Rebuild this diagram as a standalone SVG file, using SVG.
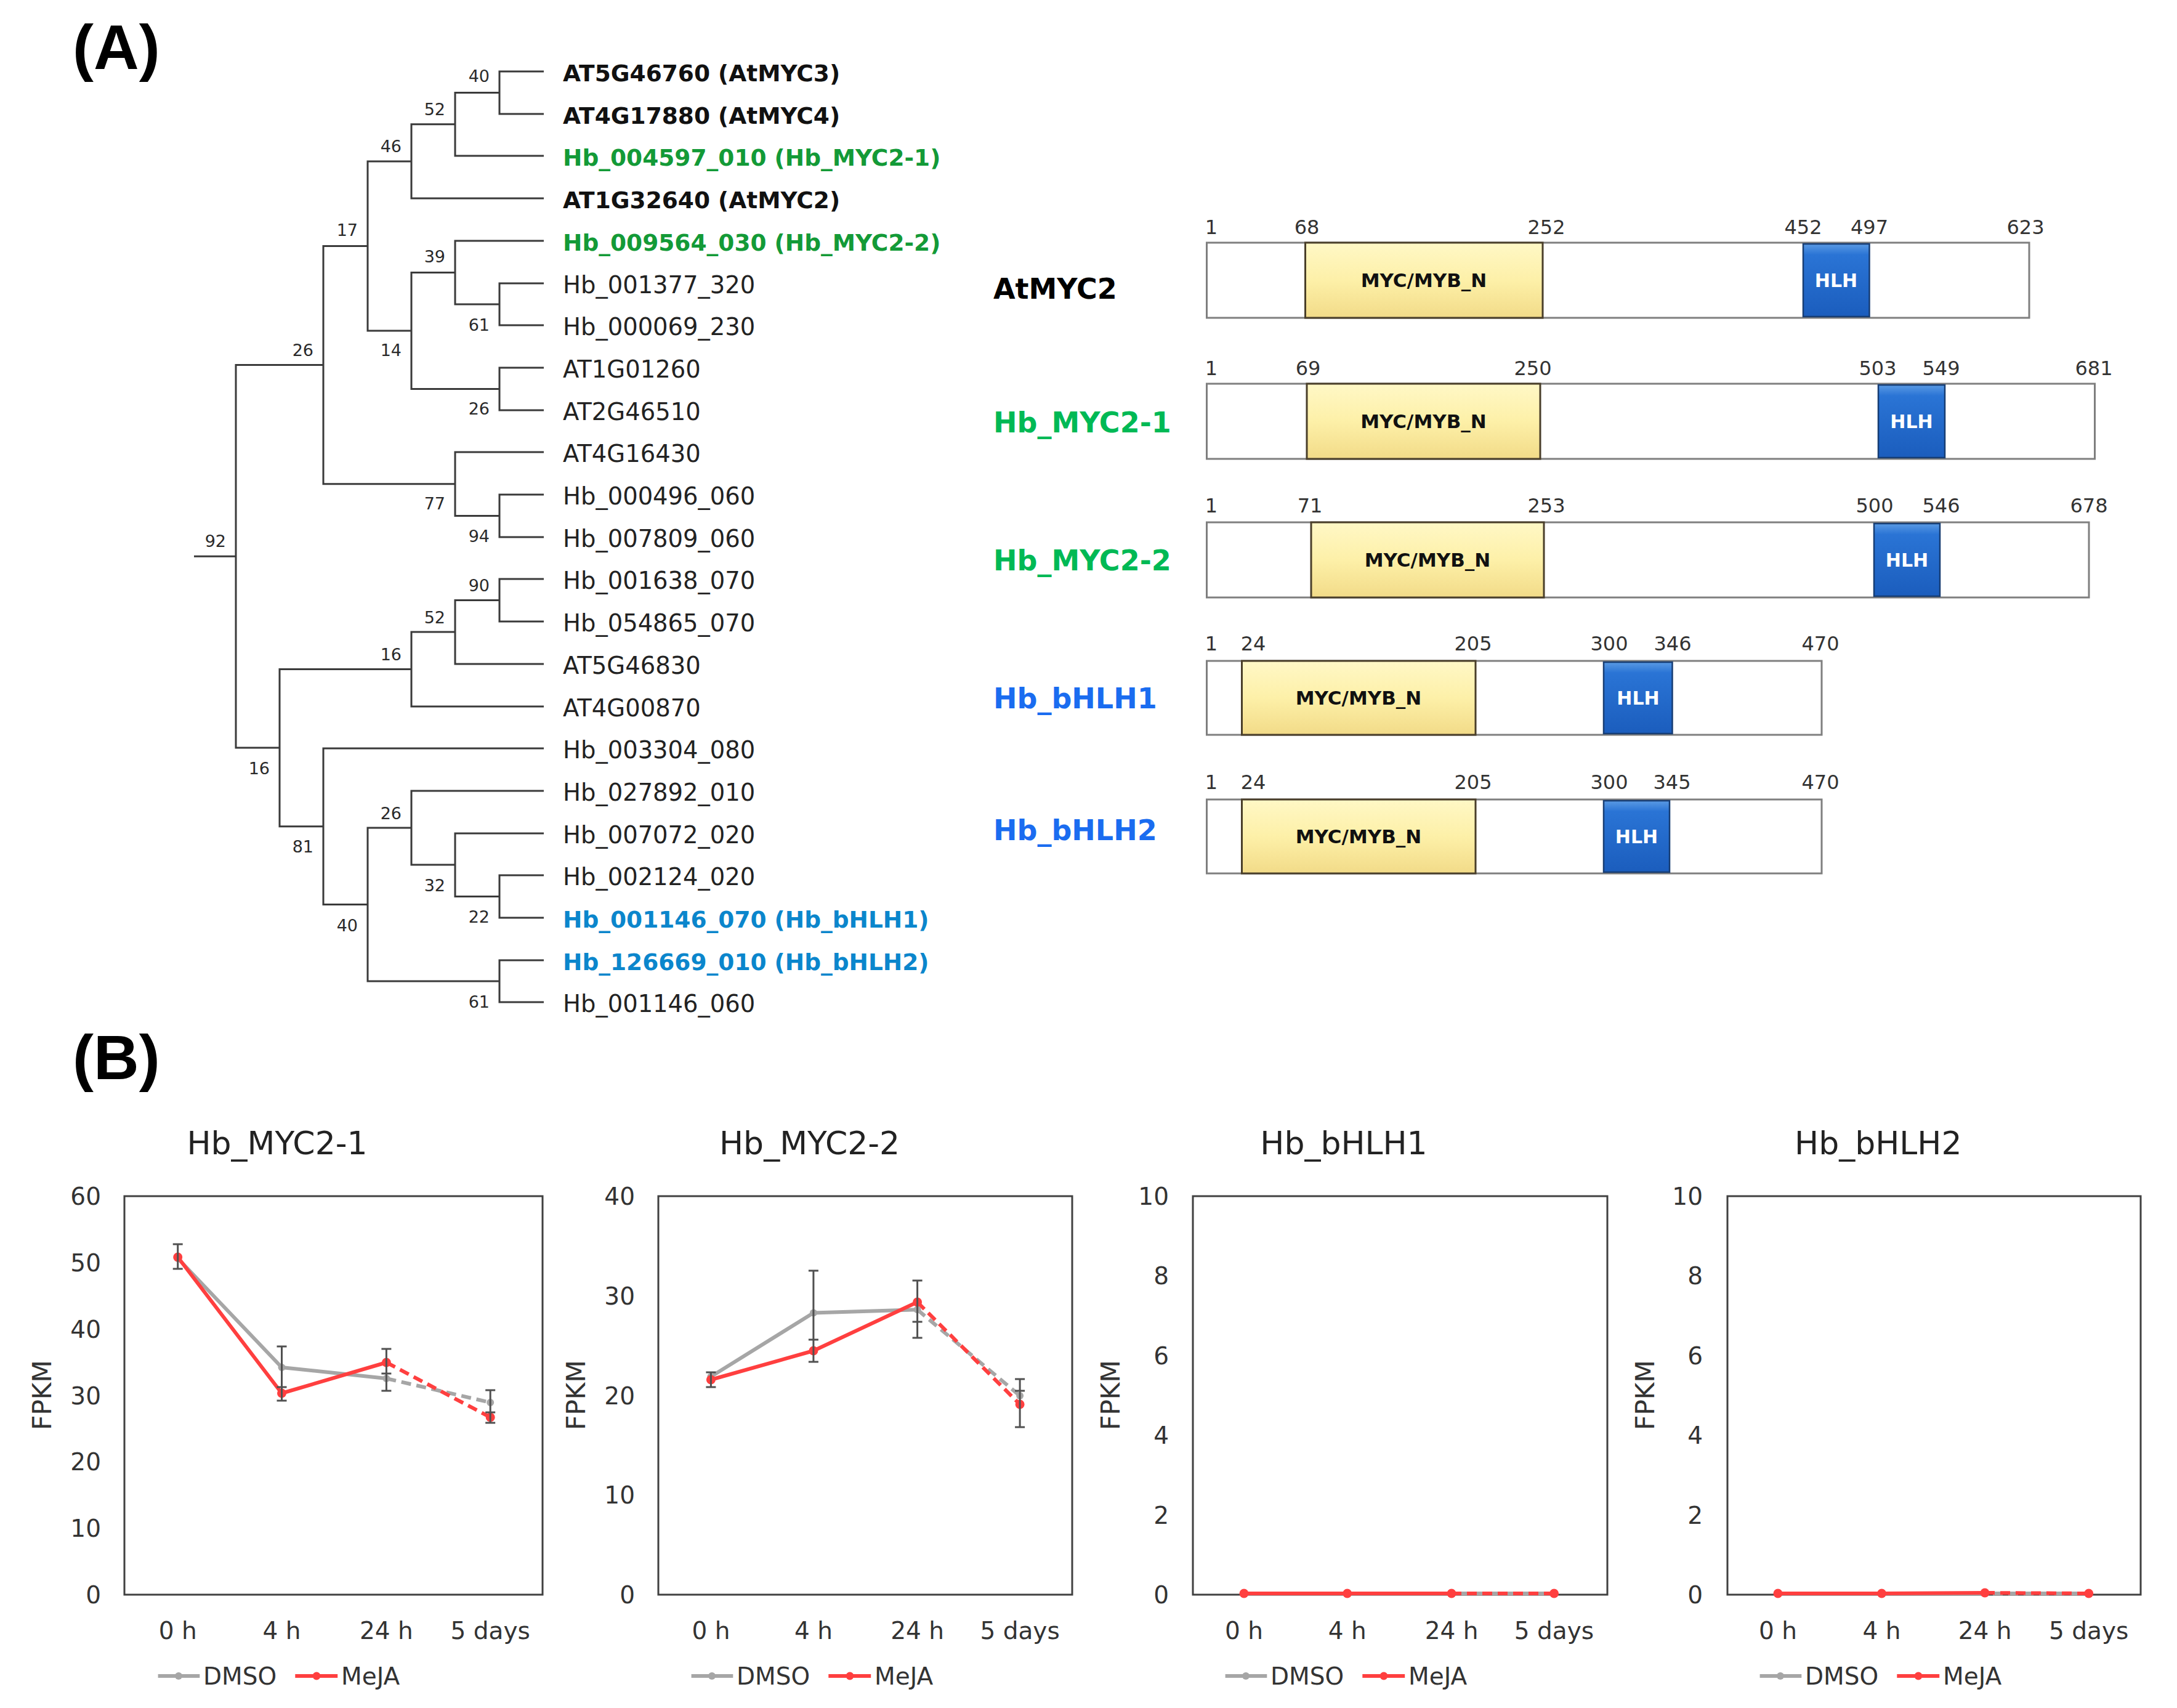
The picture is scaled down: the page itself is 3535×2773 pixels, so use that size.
<svg xmlns="http://www.w3.org/2000/svg" width="3535" height="2773" viewBox="0 0 3535 2773">
<style>
text{font-family:"DejaVu Sans",Verdana,sans-serif}
.panel{font-family:"Liberation Sans",Arial,sans-serif;font-weight:bold;font-size:102px;fill:#000}
.br{fill:none;stroke:#3a3a3a;stroke-width:3}
.bs{font-size:27px;fill:#2a2a2a;text-anchor:end}
.lf{font-size:38.5px;fill:#222}
.lb{font-size:37.5px;font-weight:bold;fill:#111}
.gt{fill:#139a37}
.bt{fill:#0b86cc}
.dl{font-size:46px;font-weight:bold}
.num{font-size:32px;fill:#333;text-anchor:middle}
.outer{fill:#fff;stroke:#7f7f7f;stroke-width:3}
.myc{fill:url(#gy);stroke:#4a3f2a;stroke-width:3}
.hlh{fill:url(#gb);stroke:#173d73;stroke-width:2.5}
.mt{font-size:31px;font-weight:bold;fill:#111;text-anchor:middle}
.ht{font-size:30px;font-weight:bold;fill:#fff;text-anchor:middle}
.box{fill:#fff;stroke:#404040;stroke-width:3}
.tk{font-size:39px;fill:#333;text-anchor:end}
.xl{font-size:39px;fill:#333;text-anchor:middle}
.ti{font-size:52px;fill:#222;text-anchor:middle}
.yl{font-size:42px;fill:#333;text-anchor:middle}
.lg{font-size:39px;fill:#333}
.dm{fill:none;stroke:#a6a6a6;stroke-width:6;stroke-linejoin:round}
.mj{fill:none;stroke:#ff3f3f;stroke-width:6;stroke-linejoin:round}
.dash{stroke-dasharray:16 9}
.dmp{fill:#a6a6a6}
.mjp{fill:#ff3f3f}
.eb{fill:none;stroke:#505050;stroke-width:3}
</style>
<defs>
<linearGradient id="gy" x1="0" y1="0" x2="0" y2="1">
<stop offset="0" stop-color="#fff8c6"/><stop offset="0.5" stop-color="#fdf0a8"/><stop offset="1" stop-color="#f2db88"/>
</linearGradient>
<linearGradient id="gb" x1="0" y1="0" x2="0" y2="1">
<stop offset="0" stop-color="#5a9ae4"/><stop offset="0.15" stop-color="#2a74d5"/><stop offset="1" stop-color="#1b5dbd"/>
</linearGradient>
</defs>
<rect width="3535" height="2773" fill="#fff"/>

<text class="panel" x="118" y="112">(A)</text>
<text class="panel" x="118" y="1752">(B)</text>

<!-- Tree connectors -->
<g id="tree-connectors">
<path class="br" d="M883 116 H811 V185 H883"/>
<path class="br" d="M811 150.5 H739 V253 H883"/>
<path class="br" d="M739 201.75 H668 V322 H883"/>
<path class="br" d="M883 460 H811 V528 H883"/>
<path class="br" d="M883 391 H739 V494 H811"/>
<path class="br" d="M883 597 H811 V666 H883"/>
<path class="br" d="M739 442.5 H668 V631.5 H811"/>
<path class="br" d="M668 261.9 H597 V537 H668"/>
<path class="br" d="M883 803 H811 V872 H883"/>
<path class="br" d="M883 734 H739 V837.5 H811"/>
<path class="br" d="M597 399.5 H525 V785.75 H739"/>
<path class="br" d="M883 940 H811 V1009 H883"/>
<path class="br" d="M811 974.5 H739 V1078 H883"/>
<path class="br" d="M739 1026 H668 V1147 H883"/>
<path class="br" d="M883 1421 H811 V1490 H883"/>
<path class="br" d="M883 1353 H739 V1455.5 H811"/>
<path class="br" d="M883 1284 H668 V1404 H739"/>
<path class="br" d="M883 1559 H811 V1627 H883"/>
<path class="br" d="M668 1344 H597 V1593 H811"/>
<path class="br" d="M883 1215 H525 V1468.5 H597"/>
<path class="br" d="M668 1086.5 H454 V1341.75 H525"/>
<path class="br" d="M525 592.6 H383 V1214 H454 M315 903.3 H383"/>
</g>

<g id="tree-support">
<text class="bs" x="795" y="133">40</text>
<text class="bs" x="723" y="187">52</text>
<text class="bs" x="652" y="247">46</text>
<text class="bs" x="581" y="383">17</text>
<text class="bs" x="723" y="426">39</text>
<text class="bs" x="795" y="537">61</text>
<text class="bs" x="509" y="578">26</text>
<text class="bs" x="652" y="578">14</text>
<text class="bs" x="795" y="673">26</text>
<text class="bs" x="723" y="827">77</text>
<text class="bs" x="795" y="880">94</text>
<text class="bs" x="367" y="888">92</text>
<text class="bs" x="795" y="960">90</text>
<text class="bs" x="723" y="1012">52</text>
<text class="bs" x="652" y="1072">16</text>
<text class="bs" x="438" y="1257">16</text>
<text class="bs" x="509" y="1384">81</text>
<text class="bs" x="652" y="1330">26</text>
<text class="bs" x="723" y="1447">32</text>
<text class="bs" x="795" y="1498">22</text>
<text class="bs" x="581" y="1512">40</text>
<text class="bs" x="795" y="1636">61</text>
</g>

<g id="tree-leaves">
<text id="leaf-AT5G46760" class="lb" x="914" y="131.5">AT5G46760 (AtMYC3)</text>
<text id="leaf-AT4G17880" class="lb" x="914" y="200.5">AT4G17880 (AtMYC4)</text>
<text id="leaf-Hb_004597_010" class="lb gt" x="914" y="268.5">Hb_004597_010 (Hb_MYC2-1)</text>
<text id="leaf-AT1G32640" class="lb" x="914" y="337.5">AT1G32640 (AtMYC2)</text>
<text id="leaf-Hb_009564_030" class="lb gt" x="914" y="406.5">Hb_009564_030 (Hb_MYC2-2)</text>
<text id="leaf-Hb_001377_320" class="lf" x="914" y="475.5">Hb_001377_320</text>
<text id="leaf-Hb_000069_230" class="lf" x="914" y="543.5">Hb_000069_230</text>
<text id="leaf-AT1G01260" class="lf" x="914" y="612.5">AT1G01260</text>
<text id="leaf-AT2G46510" class="lf" x="914" y="681.5">AT2G46510</text>
<text id="leaf-AT4G16430" class="lf" x="914" y="749.5">AT4G16430</text>
<text id="leaf-Hb_000496_060" class="lf" x="914" y="818.5">Hb_000496_060</text>
<text id="leaf-Hb_007809_060" class="lf" x="914" y="887.5">Hb_007809_060</text>
<text id="leaf-Hb_001638_070" class="lf" x="914" y="955.5">Hb_001638_070</text>
<text id="leaf-Hb_054865_070" class="lf" x="914" y="1024.5">Hb_054865_070</text>
<text id="leaf-AT5G46830" class="lf" x="914" y="1093.5">AT5G46830</text>
<text id="leaf-AT4G00870" class="lf" x="914" y="1162.5">AT4G00870</text>
<text id="leaf-Hb_003304_080" class="lf" x="914" y="1230.5">Hb_003304_080</text>
<text id="leaf-Hb_027892_010" class="lf" x="914" y="1299.5">Hb_027892_010</text>
<text id="leaf-Hb_007072_020" class="lf" x="914" y="1368.5">Hb_007072_020</text>
<text id="leaf-Hb_002124_020" class="lf" x="914" y="1436.5">Hb_002124_020</text>
<text id="leaf-Hb_001146_070" class="lb bt" x="914" y="1505.5">Hb_001146_070 (Hb_bHLH1)</text>
<text id="leaf-Hb_126669_010" class="lb bt" x="914" y="1574.5">Hb_126669_010 (Hb_bHLH2)</text>
<text id="leaf-Hb_001146_060" class="lf" x="914" y="1642.5">Hb_001146_060</text>
</g>

<!-- Domain structures -->
<g id="dom-AtMYC2">
<text class="dl" x="1613" y="485" fill="#000">AtMYC2</text>
<rect class="outer" x="1959.5" y="394" width="1335.5" height="122"/>
<rect class="myc" x="2119.5" y="394" width="385.5" height="122"/>
<text class="mt" x="2312" y="466">MYC/MYB_N</text>
<rect class="hlh" x="2928" y="396" width="107.5" height="118"/>
<text class="ht" x="2981.5" y="466">HLH</text>
<text class="num" x="1967" y="380">1</text><text class="num" x="2122" y="380">68</text><text class="num" x="2511" y="380">252</text><text class="num" x="2928" y="380">452</text><text class="num" x="3035.5" y="380">497</text><text class="num" x="3289" y="380">623</text>
</g>

<g id="dom-Hb_MYC2-1">
<text class="dl" x="1613" y="702" fill="#00b955">Hb_MYC2-1</text>
<rect class="outer" x="1959.5" y="623" width="1442" height="122"/>
<rect class="myc" x="2122" y="623" width="379" height="122"/>
<text class="mt" x="2311.5" y="695">MYC/MYB_N</text>
<rect class="hlh" x="3050" y="625" width="108" height="118"/>
<text class="ht" x="3104" y="695">HLH</text>
<text class="num" x="1967" y="609">1</text><text class="num" x="2124" y="609">69</text><text class="num" x="2489" y="609">250</text><text class="num" x="3049" y="609">503</text><text class="num" x="3152" y="609">549</text><text class="num" x="3400" y="609">681</text>
</g>

<g id="dom-Hb_MYC2-2">
<text class="dl" x="1613" y="926" fill="#00b955">Hb_MYC2-2</text>
<rect class="outer" x="1959.5" y="848" width="1432.5" height="122"/>
<rect class="myc" x="2129" y="848" width="378" height="122"/>
<text class="mt" x="2318" y="920">MYC/MYB_N</text>
<rect class="hlh" x="3043" y="850" width="107" height="118"/>
<text class="ht" x="3096.5" y="920">HLH</text>
<text class="num" x="1967" y="832">1</text><text class="num" x="2127" y="832">71</text><text class="num" x="2511" y="832">253</text><text class="num" x="3044" y="832">500</text><text class="num" x="3152" y="832">546</text><text class="num" x="3392" y="832">678</text>
</g>

<g id="dom-Hb_bHLH1">
<text class="dl" x="1613" y="1150" fill="#1a6cf0">Hb_bHLH1</text>
<rect class="outer" x="1959.5" y="1073" width="998.5" height="120"/>
<rect class="myc" x="2016.5" y="1073" width="379.5" height="120"/>
<text class="mt" x="2206" y="1144">MYC/MYB_N</text>
<rect class="hlh" x="2604" y="1075" width="111.5" height="116"/>
<text class="ht" x="2660" y="1144">HLH</text>
<text class="num" x="1967" y="1056">1</text><text class="num" x="2035" y="1056">24</text><text class="num" x="2392" y="1056">205</text><text class="num" x="2613" y="1056">300</text><text class="num" x="2716" y="1056">346</text><text class="num" x="2956" y="1056">470</text>
</g>

<g id="dom-Hb_bHLH2">
<text class="dl" x="1613" y="1364" fill="#1a6cf0">Hb_bHLH2</text>
<rect class="outer" x="1959.5" y="1298" width="998.5" height="120"/>
<rect class="myc" x="2016.5" y="1298" width="379.5" height="120"/>
<text class="mt" x="2206" y="1369">MYC/MYB_N</text>
<rect class="hlh" x="2604" y="1300" width="107" height="116"/>
<text class="ht" x="2657.5" y="1369">HLH</text>
<text class="num" x="1967" y="1281">1</text><text class="num" x="2035" y="1281">24</text><text class="num" x="2392" y="1281">205</text><text class="num" x="2613" y="1281">300</text><text class="num" x="2715" y="1281">345</text><text class="num" x="2956" y="1281">470</text>
</g>

<!-- Chart 1 -->
<g id="chart-Hb_MYC2-1">
<text class="ti" x="450" y="1874">Hb_MYC2-1</text>
<rect class="box" x="202" y="1942" width="679" height="647"/>
<text class="tk" x="164" y="2603">0</text>
<text class="tk" x="164" y="2495.2">10</text>
<text class="tk" x="164" y="2387.3">20</text>
<text class="tk" x="164" y="2279.5">30</text>
<text class="tk" x="164" y="2171.7">40</text>
<text class="tk" x="164" y="2063.8">50</text>
<text class="tk" x="164" y="1956">60</text>
<text class="yl" transform="translate(83 2265) rotate(-90)">FPKM</text>
<text class="xl" x="288.7" y="2661">0 h</text>
<text class="xl" x="457.5" y="2661">4 h</text>
<text class="xl" x="627.4" y="2661">24 h</text>
<text class="xl" x="796.2" y="2661">5 days</text>
<polyline class="dm" points="288.7,2043 457.5,2220 627.4,2238"/>
<line class="dm dash" x1="627.4" y1="2238" x2="796.2" y2="2277"/>
<polyline class="mj" points="288.7,2041 457.5,2262 627.4,2212"/>
<line class="mj dash" x1="627.4" y1="2212" x2="796.2" y2="2301"/>
<g class="dmp"><circle cx="288.7" cy="2043" r="6"/><circle cx="457.5" cy="2220" r="6"/><circle cx="627.4" cy="2238" r="6"/><circle cx="796.2" cy="2277" r="6"/></g>
<g class="mjp"><circle cx="288.7" cy="2041" r="7.5"/><circle cx="457.5" cy="2262" r="7.5"/><circle cx="627.4" cy="2212" r="7.5"/><circle cx="796.2" cy="2301" r="7.5"/></g>
<path class="eb" d="M288.7 2020 V2060 M280.7 2020 H296.7 M280.7 2060 H296.7 M457.5 2186 V2274 M449.5 2186 H465.5 M449.5 2252 H465.5 M449.5 2274 H465.5 M627.4 2190 V2258 M619.4 2190 H635.4 M619.4 2230 H635.4 M619.4 2258 H635.4 M796.2 2257 V2310 M788.2 2257 H804.2 M788.2 2293 H804.2 M788.2 2310 H804.2"/>
<line class="dm" x1="256.6" y1="2721" x2="324.3" y2="2721"/><circle class="dmp" cx="290" cy="2721" r="6"/>
<text class="lg" x="330" y="2735">DMSO</text>
<line class="mj" x1="479.3" y1="2721" x2="548.2" y2="2721"/><circle class="mjp" cx="514" cy="2721" r="6.5"/>
<text class="lg" x="554" y="2735">MeJA</text>
</g>

<!-- Chart 2 -->
<g id="chart-Hb_MYC2-2">
<text class="ti" x="1314.6" y="1874">Hb_MYC2-2</text>
<rect class="box" x="1069" y="1942" width="672" height="647"/>
<text class="tk" x="1031" y="2603">0</text>
<text class="tk" x="1031" y="2441.3">10</text>
<text class="tk" x="1031" y="2279.5">20</text>
<text class="tk" x="1031" y="2117.8">30</text>
<text class="tk" x="1031" y="1956">40</text>
<text class="yl" transform="translate(950 2265) rotate(-90)">FPKM</text>
<text class="xl" x="1154.4" y="2661">0 h</text>
<text class="xl" x="1320.9" y="2661">4 h</text>
<text class="xl" x="1489.6" y="2661">24 h</text>
<text class="xl" x="1656.1" y="2661">5 days</text>
<polyline class="dm" points="1154.4,2235 1320.9,2131.5 1489.6,2126.3"/>
<line class="dm dash" x1="1489.6" y1="2126.3" x2="1656.1" y2="2266"/>
<polyline class="mj" points="1154.4,2240 1320.9,2193 1489.6,2114"/>
<line class="mj dash" x1="1489.6" y1="2114" x2="1656.1" y2="2280"/>
<g class="dmp"><circle cx="1154.4" cy="2235" r="6"/><circle cx="1320.9" cy="2131.5" r="6"/><circle cx="1489.6" cy="2126.3" r="6"/><circle cx="1656.1" cy="2266" r="6"/></g>
<g class="mjp"><circle cx="1154.4" cy="2240" r="7.5"/><circle cx="1320.9" cy="2193" r="7.5"/><circle cx="1489.6" cy="2114" r="7.5"/><circle cx="1656.1" cy="2280" r="7.5"/></g>
<path class="eb" d="M1154.4 2228 V2252 M1146.4 2228 H1162.4 M1146.4 2252 H1162.4 M1320.9 2063 V2211 M1312.9 2063 H1328.9 M1312.9 2175 H1328.9 M1312.9 2211 H1328.9 M1489.6 2079 V2172 M1481.6 2079 H1497.6 M1481.6 2146 H1497.6 M1481.6 2172 H1497.6 M1656.1 2239 V2317 M1648.1 2239 H1664.1 M1648.1 2258 H1664.1 M1648.1 2317 H1664.1"/>
<line class="dm" x1="1122.6" y1="2721" x2="1190.3" y2="2721"/><circle class="dmp" cx="1156" cy="2721" r="6"/>
<text class="lg" x="1196" y="2735">DMSO</text>
<line class="mj" x1="1345.3" y1="2721" x2="1414.2" y2="2721"/><circle class="mjp" cx="1380" cy="2721" r="6.5"/>
<text class="lg" x="1420" y="2735">MeJA</text>
</g>

<!-- Chart 3 -->
<g id="chart-Hb_bHLH1">
<text class="ti" x="2182" y="1874">Hb_bHLH1</text>
<rect class="box" x="1937" y="1942" width="673" height="647"/>
<text class="tk" x="1898" y="2603">0</text>
<text class="tk" x="1898" y="2473.6">2</text>
<text class="tk" x="1898" y="2344.2">4</text>
<text class="tk" x="1898" y="2214.8">6</text>
<text class="tk" x="1898" y="2085.4">8</text>
<text class="tk" x="1898" y="1956">10</text>
<text class="yl" transform="translate(1818 2265) rotate(-90)">FPKM</text>
<text class="xl" x="2020" y="2661">0 h</text>
<text class="xl" x="2187.7" y="2661">4 h</text>
<text class="xl" x="2357" y="2661">24 h</text>
<text class="xl" x="2523.5" y="2661">5 days</text>
<polyline class="dm" points="2020,2587 2187.7,2587 2357,2587"/>
<line class="dm dash" x1="2357" y1="2587" x2="2523.5" y2="2587" style="stroke-dashoffset:12"/>
<polyline class="mj" points="2020,2587 2187.7,2587 2357,2587"/>
<line class="mj dash" x1="2357" y1="2587" x2="2523.5" y2="2587"/>
<g class="mjp"><circle cx="2020" cy="2587" r="7.5"/><circle cx="2187.7" cy="2587" r="7.5"/><circle cx="2357" cy="2587" r="7.5"/><circle cx="2523.5" cy="2587" r="7.5"/></g>
<line class="dm" x1="1989.6" y1="2721" x2="2057.3" y2="2721"/><circle class="dmp" cx="2023" cy="2721" r="6"/>
<text class="lg" x="2063" y="2735">DMSO</text>
<line class="mj" x1="2212.3" y1="2721" x2="2281.2" y2="2721"/><circle class="mjp" cx="2247" cy="2721" r="6.5"/>
<text class="lg" x="2287" y="2735">MeJA</text>
</g>

<!-- Chart 4 -->
<g id="chart-Hb_bHLH2">
<text class="ti" x="3049.8" y="1874">Hb_bHLH2</text>
<rect class="box" x="2805" y="1942" width="671" height="647"/>
<text class="tk" x="2765" y="2603">0</text>
<text class="tk" x="2765" y="2473.6">2</text>
<text class="tk" x="2765" y="2344.2">4</text>
<text class="tk" x="2765" y="2214.8">6</text>
<text class="tk" x="2765" y="2085.4">8</text>
<text class="tk" x="2765" y="1956">10</text>
<text class="yl" transform="translate(2686 2265) rotate(-90)">FPKM</text>
<text class="xl" x="2887" y="2661">0 h</text>
<text class="xl" x="3055.5" y="2661">4 h</text>
<text class="xl" x="3223" y="2661">24 h</text>
<text class="xl" x="3391.7" y="2661">5 days</text>
<polyline class="dm" points="2887,2587 3055.5,2587 3223,2587"/>
<line class="dm dash" x1="3223" y1="2587" x2="3391.7" y2="2587" style="stroke-dashoffset:12"/>
<polyline class="mj" points="2887,2587 3055.5,2587 3223,2586"/>
<line class="mj dash" x1="3223" y1="2586" x2="3391.7" y2="2587"/>
<g class="mjp"><circle cx="2887" cy="2587" r="7.5"/><circle cx="3055.5" cy="2587" r="7.5"/><circle cx="3223" cy="2586" r="7.5"/><circle cx="3391.7" cy="2587" r="7.5"/></g>
<line class="dm" x1="2857.6" y1="2721" x2="2925.3" y2="2721"/><circle class="dmp" cx="2891" cy="2721" r="6"/>
<text class="lg" x="2931" y="2735">DMSO</text>
<line class="mj" x1="3080.3" y1="2721" x2="3149.2" y2="2721"/><circle class="mjp" cx="3115" cy="2721" r="6.5"/>
<text class="lg" x="3155" y="2735">MeJA</text>
</g>
</svg>
